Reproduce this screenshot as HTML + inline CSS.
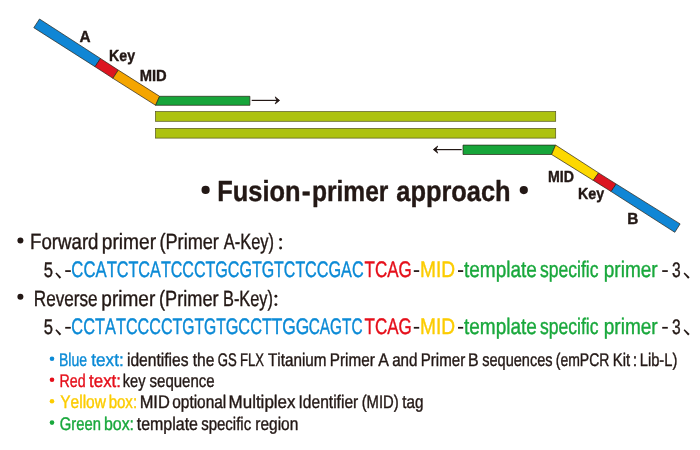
<!DOCTYPE html>
<html>
<head>
<meta charset="utf-8">
<title>Fusion-primer approach</title>
<style>
  html, body { margin: 0; padding: 0; background: #ffffff; }
  body { width: 700px; height: 450px; overflow: hidden; }
  svg { display: block; will-change: transform; }
  text { font-family: "Liberation Sans", sans-serif; fill: #231815; stroke: #231815; stroke-width: 0.4px; stroke-linejoin: round; font-kerning: none; text-rendering: geometricPrecision; }
</style>
</head>
<body>
<svg width="700" height="450" viewBox="0 0 700 450">
  <rect x="0" y="0" width="700" height="450" fill="#ffffff"/>

  <!-- adaptor arms and template strands -->
  <g stroke="#2a2418" stroke-width="0.7" stroke-linejoin="miter">
    <polygon points="39.5,19 100.5,58.5 95,66.7 33.8,27.7" fill="#1086d5"/>
    <polygon points="100.5,58.5 118.3,70.1 112.9,78.3 95,66.7" fill="#dc1520"/>
    <polygon points="118.3,70.1 159.6,96.3 155.6,105.3 112.9,78.3" fill="#f5a500"/>
    <polygon points="159.6,96.3 249.9,96.3 249.9,105.3 155.6,105.3" fill="#17a53a"/>
    <rect x="155.5" y="111.6" width="400.2" height="9.7" fill="#adc210" stroke="#55551c"/>
    <rect x="155.5" y="128.4" width="400.2" height="9.7" fill="#adc210" stroke="#55551c"/>
    <polygon points="463,145.1 555.6,145.1 551.6,154.5 463,154.5" fill="#17a53a"/>
    <polygon points="555.6,145.1 598.6,172.9 593.3,180.4 551.6,154.5" fill="#fdd800"/>
    <polygon points="598.6,172.9 616.2,184 611.1,191.5 593.3,180.4" fill="#dc1520"/>
    <polygon points="616.2,184 680.1,223.9 674.8,232.3 611.1,191.5" fill="#1086d5"/>
  </g>

  <!-- arrows -->
  <g stroke="#231815" stroke-width="1.2" fill="#231815" stroke-linejoin="miter">
    <line x1="251.7" y1="100.4" x2="278" y2="100.4"/>
    <polygon points="279.6,100.4 275.2,96.9 276.9,100.4 275.2,103.9" stroke-width="0.8"/>
    <line x1="435" y1="149.6" x2="461.7" y2="149.6"/>
    <polygon points="433.3,149.6 437.7,146.1 436,149.6 437.7,153.1" stroke-width="0.8"/>
  </g>

  <text x="79.62" y="41.80" font-size="16" font-weight="bold" textLength="11.09" lengthAdjust="spacingAndGlyphs">A</text>
  <text x="109.05" y="60.80" font-size="16" font-weight="bold" textLength="26.03" lengthAdjust="spacingAndGlyphs">Key</text>
  <text x="139.71" y="81.20" font-size="16" font-weight="bold" textLength="27.00" lengthAdjust="spacingAndGlyphs">MID</text>
  <text x="548.05" y="181.90" font-size="16" font-weight="bold" textLength="25.94" lengthAdjust="spacingAndGlyphs">MID</text>
  <text x="577.94" y="199.00" font-size="16" font-weight="bold" textLength="26.23" lengthAdjust="spacingAndGlyphs">Key</text>
  <text x="627.27" y="223.60" font-size="16" font-weight="bold" textLength="11.13" lengthAdjust="spacingAndGlyphs">B</text>
  <circle cx="205.6" cy="189.9" r="4.1" fill="#231815"/>
  <text x="217.30" y="200.60" font-size="29" font-weight="bold" textLength="83.28" lengthAdjust="spacingAndGlyphs">Fusion</text>
  <text x="301.65" y="200.60" font-size="29" font-weight="bold" textLength="8.92" lengthAdjust="spacingAndGlyphs">-</text>
  <text x="311.98" y="200.60" font-size="29" font-weight="bold" textLength="76.39" lengthAdjust="spacingAndGlyphs">primer</text>
  <text x="396.26" y="200.60" font-size="29" font-weight="bold" textLength="114.32" lengthAdjust="spacingAndGlyphs">approach</text>
  <circle cx="523.8" cy="190.1" r="4.1" fill="#231815"/>
  <circle cx="20.4" cy="240.4" r="3.0" fill="#231815"/>
  <text x="30.07" y="249.00" font-size="22" textLength="68.43" lengthAdjust="spacingAndGlyphs">Forward</text>
  <text x="101.77" y="249.00" font-size="22" textLength="54.25" lengthAdjust="spacingAndGlyphs">primer</text>
  <text x="159.48" y="249.00" font-size="22" textLength="59.43" lengthAdjust="spacingAndGlyphs">(Primer</text>
  <text x="223.77" y="249.00" font-size="22" textLength="50.25" lengthAdjust="spacingAndGlyphs">A-Key)</text>
  <circle cx="280.6" cy="239.5" r="1.45" fill="#231815"/>
  <circle cx="280.6" cy="248.0" r="1.45" fill="#231815"/>
  <circle cx="20.4" cy="296.8" r="3.0" fill="#231815"/>
  <text x="33.80" y="305.80" font-size="22" textLength="63.77" lengthAdjust="spacingAndGlyphs">Reverse</text>
  <text x="101.37" y="305.80" font-size="22" textLength="53.94" lengthAdjust="spacingAndGlyphs">primer</text>
  <text x="159.08" y="305.80" font-size="22" textLength="59.43" lengthAdjust="spacingAndGlyphs">(Primer</text>
  <text x="222.96" y="305.80" font-size="22" textLength="50.06" lengthAdjust="spacingAndGlyphs">B-Key)</text>
  <circle cx="275.9" cy="296.2" r="1.45" fill="#231815"/>
  <circle cx="275.9" cy="304.6" r="1.45" fill="#231815"/>
  <text x="43.83" y="277.40" font-size="21" textLength="9.27" lengthAdjust="spacingAndGlyphs">5</text>
  <path d="M55.40,273.50 L56.40,272.60 L61.20,277.30 L59.70,278.70 Z" fill="#231815"/>
  <rect x="65.20" y="270.20" width="5.60" height="1.75" fill="#231815"/>
  <text x="71.35" y="277.40" font-size="22.5" style="fill:#0b8ad6;stroke:#0b8ad6" textLength="45.53" lengthAdjust="spacingAndGlyphs">CCAT</text>
  <text x="116.67" y="277.40" font-size="22.5" style="fill:#0b8ad6;stroke:#0b8ad6" textLength="54.20" lengthAdjust="spacingAndGlyphs">CTCAT</text>
  <text x="170.68" y="277.40" font-size="22.5" style="fill:#0b8ad6;stroke:#0b8ad6" textLength="44.69" lengthAdjust="spacingAndGlyphs">CCCT</text>
  <text x="215.19" y="277.40" font-size="22.5" style="fill:#0b8ad6;stroke:#0b8ad6" textLength="46.68" lengthAdjust="spacingAndGlyphs">GCGT</text>
  <text x="261.70" y="277.40" font-size="22.5" style="fill:#0b8ad6;stroke:#0b8ad6" textLength="43.47" lengthAdjust="spacingAndGlyphs">GTCT</text>
  <text x="304.98" y="277.40" font-size="22.5" style="fill:#0b8ad6;stroke:#0b8ad6" textLength="58.64" lengthAdjust="spacingAndGlyphs">CCGAC</text>
  <text x="364.52" y="277.40" font-size="22.5" style="fill:#e50f1a;stroke:#e50f1a" textLength="47.25" lengthAdjust="spacingAndGlyphs">TCAG</text>
  <rect x="413.80" y="270.20" width="5.40" height="1.75" fill="#231815"/>
  <text x="420.03" y="277.40" font-size="22.5" style="fill:#fccc00;stroke:#fccc00" textLength="35.09" lengthAdjust="spacingAndGlyphs">MID</text>
  <rect x="458.00" y="270.20" width="5.20" height="1.75" fill="#231815"/>
  <text x="464.01" y="277.40" font-size="22.5" style="fill:#19a83c;stroke:#19a83c" textLength="72.83" lengthAdjust="spacingAndGlyphs">template</text>
  <text x="539.91" y="277.40" font-size="22.5" style="fill:#19a83c;stroke:#19a83c" textLength="58.55" lengthAdjust="spacingAndGlyphs">specific</text>
  <text x="603.77" y="277.40" font-size="22.5" style="fill:#19a83c;stroke:#19a83c" textLength="53.94" lengthAdjust="spacingAndGlyphs">primer</text>
  <rect x="662.20" y="270.20" width="5.60" height="1.75" fill="#231815"/>
  <text x="672.01" y="277.40" font-size="21" textLength="8.68" lengthAdjust="spacingAndGlyphs">3</text>
  <path d="M683.60,273.50 L684.60,272.60 L689.60,277.30 L688.10,278.70 Z" fill="#231815"/>
  <text x="43.83" y="334.10" font-size="21" textLength="9.27" lengthAdjust="spacingAndGlyphs">5</text>
  <path d="M55.40,330.20 L56.40,329.30 L61.20,334.00 L59.70,335.40 Z" fill="#231815"/>
  <rect x="65.20" y="326.90" width="5.60" height="1.75" fill="#231815"/>
  <text x="71.37" y="334.10" font-size="22.5" style="fill:#0b8ad6;stroke:#0b8ad6" textLength="54.51" lengthAdjust="spacingAndGlyphs">CCTAT</text>
  <text x="125.98" y="334.10" font-size="22.5" style="fill:#0b8ad6;stroke:#0b8ad6" textLength="56.39" lengthAdjust="spacingAndGlyphs">CCCCT</text>
  <text x="182.21" y="334.10" font-size="22.5" style="fill:#0b8ad6;stroke:#0b8ad6" textLength="43.65" lengthAdjust="spacingAndGlyphs">GTGT</text>
  <text x="225.68" y="334.10" font-size="22.5" style="fill:#0b8ad6;stroke:#0b8ad6" textLength="46.19" lengthAdjust="spacingAndGlyphs">GCCT</text>
  <text x="271.64" y="334.10" font-size="22.5" style="fill:#0b8ad6;stroke:#0b8ad6" textLength="37.63" lengthAdjust="spacingAndGlyphs">TGG</text>
  <text x="308.72" y="334.10" font-size="22.5" style="fill:#0b8ad6;stroke:#0b8ad6" textLength="53.87" lengthAdjust="spacingAndGlyphs">CAGTC</text>
  <text x="364.52" y="334.10" font-size="22.5" style="fill:#e50f1a;stroke:#e50f1a" textLength="47.25" lengthAdjust="spacingAndGlyphs">TCAG</text>
  <rect x="413.80" y="326.90" width="5.40" height="1.75" fill="#231815"/>
  <text x="420.03" y="334.10" font-size="22.5" style="fill:#fccc00;stroke:#fccc00" textLength="35.09" lengthAdjust="spacingAndGlyphs">MID</text>
  <rect x="458.00" y="326.90" width="5.20" height="1.75" fill="#231815"/>
  <text x="464.01" y="334.10" font-size="22.5" style="fill:#19a83c;stroke:#19a83c" textLength="72.83" lengthAdjust="spacingAndGlyphs">template</text>
  <text x="539.91" y="334.10" font-size="22.5" style="fill:#19a83c;stroke:#19a83c" textLength="58.55" lengthAdjust="spacingAndGlyphs">specific</text>
  <text x="603.77" y="334.10" font-size="22.5" style="fill:#19a83c;stroke:#19a83c" textLength="53.94" lengthAdjust="spacingAndGlyphs">primer</text>
  <rect x="662.20" y="326.90" width="5.60" height="1.75" fill="#231815"/>
  <text x="672.01" y="334.10" font-size="21" textLength="8.68" lengthAdjust="spacingAndGlyphs">3</text>
  <path d="M683.60,330.20 L684.60,329.30 L689.60,334.00 L688.10,335.40 Z" fill="#231815"/>
  <circle cx="52" cy="358.7" r="2.3" fill="#0b8ad6"/>
  <text x="58.97" y="365.70" font-size="18.3" style="fill:#0b8ad6;stroke:#0b8ad6" textLength="28.13" lengthAdjust="spacingAndGlyphs">Blue</text>
  <text x="91.22" y="365.70" font-size="18.3" style="fill:#0b8ad6;stroke:#0b8ad6" textLength="32.46" lengthAdjust="spacingAndGlyphs">text:</text>
  <text x="126.96" y="365.70" font-size="18.3" textLength="61.61" lengthAdjust="spacingAndGlyphs">identifies</text>
  <text x="192.66" y="365.70" font-size="18.3" textLength="21.63" lengthAdjust="spacingAndGlyphs">the</text>
  <text x="217.84" y="365.70" font-size="18.3" textLength="18.96" lengthAdjust="spacingAndGlyphs">GS</text>
  <text x="240.12" y="365.70" font-size="18.3" textLength="23.96" lengthAdjust="spacingAndGlyphs">FLX</text>
  <text x="268.06" y="365.70" font-size="18.3" textLength="58.45" lengthAdjust="spacingAndGlyphs">Titanium</text>
  <text x="329.75" y="365.70" font-size="18.3" textLength="45.01" lengthAdjust="spacingAndGlyphs">Primer</text>
  <text x="378.37" y="365.70" font-size="18.3" textLength="10.65" lengthAdjust="spacingAndGlyphs">A</text>
  <text x="392.16" y="365.70" font-size="18.3" textLength="25.32" lengthAdjust="spacingAndGlyphs">and</text>
  <text x="420.76" y="365.70" font-size="18.3" textLength="44.49" lengthAdjust="spacingAndGlyphs">Primer</text>
  <text x="467.94" y="365.70" font-size="18.3" textLength="10.65" lengthAdjust="spacingAndGlyphs">B</text>
  <text x="482.20" y="365.70" font-size="18.3" textLength="70.33" lengthAdjust="spacingAndGlyphs">sequences</text>
  <text x="555.73" y="365.70" font-size="18.3" textLength="53.72" lengthAdjust="spacingAndGlyphs">(emPCR</text>
  <text x="612.78" y="365.70" font-size="18.3" textLength="17.33" lengthAdjust="spacingAndGlyphs">Kit</text>
  <text x="632.78" y="365.70" font-size="18.3" textLength="4.44" lengthAdjust="spacingAndGlyphs">:</text>
  <text x="639.80" y="365.70" font-size="18.3" textLength="37.51" lengthAdjust="spacingAndGlyphs">Lib-L)</text>
  <circle cx="52" cy="379.8" r="2.3" fill="#e50f1a"/>
  <text x="59.53" y="386.90" font-size="18.3" style="fill:#e50f1a;stroke:#e50f1a" textLength="26.08" lengthAdjust="spacingAndGlyphs">Red</text>
  <text x="89.08" y="386.90" font-size="18.3" style="fill:#e50f1a;stroke:#e50f1a" textLength="31.92" lengthAdjust="spacingAndGlyphs">text:</text>
  <text x="122.82" y="386.90" font-size="18.3" textLength="22.71" lengthAdjust="spacingAndGlyphs">key</text>
  <text x="149.58" y="386.90" font-size="18.3" textLength="65.08" lengthAdjust="spacingAndGlyphs">sequence</text>
  <circle cx="52" cy="401.2" r="2.3" fill="#fccc00"/>
  <text x="60.26" y="408.20" font-size="18.3" style="fill:#fccc00;stroke:#fccc00" textLength="45.70" lengthAdjust="spacingAndGlyphs">Yellow</text>
  <text x="108.63" y="408.20" font-size="18.3" style="fill:#fccc00;stroke:#fccc00" textLength="28.44" lengthAdjust="spacingAndGlyphs">box:</text>
  <text x="139.65" y="408.20" font-size="18.3" textLength="30.14" lengthAdjust="spacingAndGlyphs">MID</text>
  <text x="172.25" y="408.20" font-size="18.3" textLength="53.98" lengthAdjust="spacingAndGlyphs">optional</text>
  <text x="228.57" y="408.20" font-size="18.3" textLength="66.95" lengthAdjust="spacingAndGlyphs">Multiplex</text>
  <text x="298.56" y="408.20" font-size="18.3" textLength="59.69" lengthAdjust="spacingAndGlyphs">Identifier</text>
  <text x="361.68" y="408.20" font-size="18.3" textLength="37.04" lengthAdjust="spacingAndGlyphs">(MID)</text>
  <text x="402.27" y="408.20" font-size="18.3" textLength="21.21" lengthAdjust="spacingAndGlyphs">tag</text>
  <circle cx="52" cy="422.6" r="2.3" fill="#19a83c"/>
  <text x="59.86" y="429.60" font-size="18.3" style="fill:#19a83c;stroke:#19a83c" textLength="41.10" lengthAdjust="spacingAndGlyphs">Green</text>
  <text x="103.97" y="429.60" font-size="18.3" style="fill:#19a83c;stroke:#19a83c" textLength="30.08" lengthAdjust="spacingAndGlyphs">box:</text>
  <text x="136.76" y="429.60" font-size="18.3" textLength="61.25" lengthAdjust="spacingAndGlyphs">template</text>
  <text x="201.18" y="429.60" font-size="18.3" textLength="50.01" lengthAdjust="spacingAndGlyphs">specific</text>
  <text x="255.37" y="429.60" font-size="18.3" textLength="42.93" lengthAdjust="spacingAndGlyphs">region</text>
</svg>
</body>
</html>
